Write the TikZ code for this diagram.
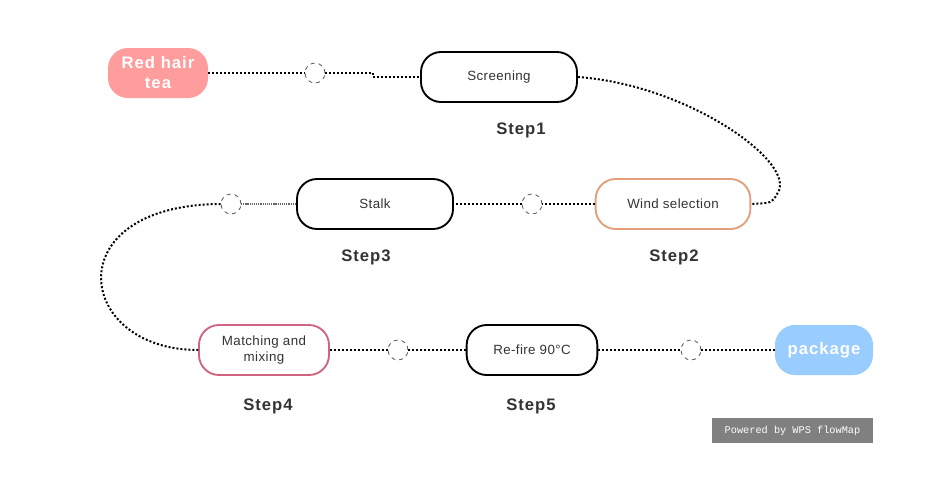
\documentclass[tikz,border=0pt]{standalone}
\usepackage{fontspec}
\setmainfont{Liberation Sans}
\newfontfamily\wmfont{Liberation Mono}
\begin{document}
\begin{tikzpicture}[x=0.75pt,y=-0.75pt,
  proc/.style={draw=black,line width=1.4pt,rounded corners=15pt,fill=white,
    minimum height=37.5pt,font=\fontsize{10}{12}\selectfont\addfontfeatures{LetterSpace=3},text=black!80,align=center,inner sep=2pt},
  term/.style={rounded corners=15pt,minimum height=37.5pt,text=white,
    font=\fontsize{12.5}{15}\selectfont\bfseries\addfontfeatures{LetterSpace=6},align=center,inner sep=2pt},
  steplbl/.style={font=\fontsize{12.5}{14}\selectfont\bfseries\addfontfeatures{LetterSpace=6},text=black!80},
  dotline/.style={line width=1.5pt,dash pattern=on 1.5pt off 1.5pt},
  fineline/.style={line width=0.9pt,dash pattern=on 0.8pt off 0.6pt,draw=black!60},
  joint/.style={circle,draw=black!65,dashed,line width=0.6pt,fill=white,minimum size=15pt,inner sep=0pt}]
\useasboundingbox (0,0) rectangle (936,487);
\fill[white] (0,0) rectangle (936,487);
% nodes
\node[term,fill={rgb,255:red,255;green,156;blue,156},minimum width=75pt] (tea) at (158,73) {Red hair\\tea};
\node[proc,minimum width=117pt] (scr) at (499,77) {Screening};
\node[steplbl] (s1) at (521,130) {Step1};
\node[proc,draw={rgb,255:red,229;green,160;blue,122},minimum width=116pt] (wind) at (673,204) {Wind selection};
\node[steplbl] (s2) at (674,257) {Step2};
\node[proc,minimum width=117pt] (stalk) at (375,204) {Stalk};
\node[steplbl] (s3) at (366,257) {Step3};
\node[proc,draw={rgb,255:red,208;green,100;blue,128},minimum width=97.5pt,font=\fontsize{10}{12}\selectfont\addfontfeatures{LetterSpace=3}] (mix) at (264,350) {Matching and\\mixing};
\node[steplbl] (s4) at (268,406) {Step4};
\node[proc,minimum width=98pt] (refire) at (532,350) {Re-fire 90°C};
\node[steplbl] (s5) at (531,406) {Step5};
\node[term,fill={rgb,255:red,153;green,204;blue,255},minimum width=73.5pt] (pkg) at (824,350) {package};
\node[fill={rgb,255:red,128;green,128;blue,128},text=white,minimum width=120.75pt,minimum height=18.75pt,inner sep=1pt,font=\wmfont\fontsize{7.7}{8}\selectfont] (wm) at (792.5,430.5) {Powered by WPS flowMap};
% joints
\node[joint] (j1) at (315,73) {};
\node[joint] (j2) at (532,204) {};
\node[joint] (j3) at (231,204) {};
\node[joint] (j4) at (398,350) {};
\node[joint] (j5) at (691,350) {};
\coordinate (k1) at (373,73);
\coordinate (k2) at (373,77);
% connectors
\draw[dotline] (tea.east) -- (j1.west);
\draw[dotline] (j1.east) -- (k1) -- (k2) -- (scr.west);
\draw[dotline] (scr.east) .. controls (690,85) and (800,165) .. (777,194) .. controls (772,203) .. (wind.east);
\draw[dotline] (wind.west) -- (j2.east);
\draw[dotline] (j2.west) -- (stalk.east);
\draw[fineline] (stalk.west) -- (j3.east);
\draw[dotline] (j3.west) .. controls (55,205) and (75,350) .. (mix.west);
\draw[dotline] (mix.east) -- (j4.west);
\draw[dotline] (j4.east) -- (refire.west);
\draw[dotline] (refire.east) -- (j5.west);
\draw[dotline] (j5.east) -- (pkg.west);
\end{tikzpicture}
\end{document}
